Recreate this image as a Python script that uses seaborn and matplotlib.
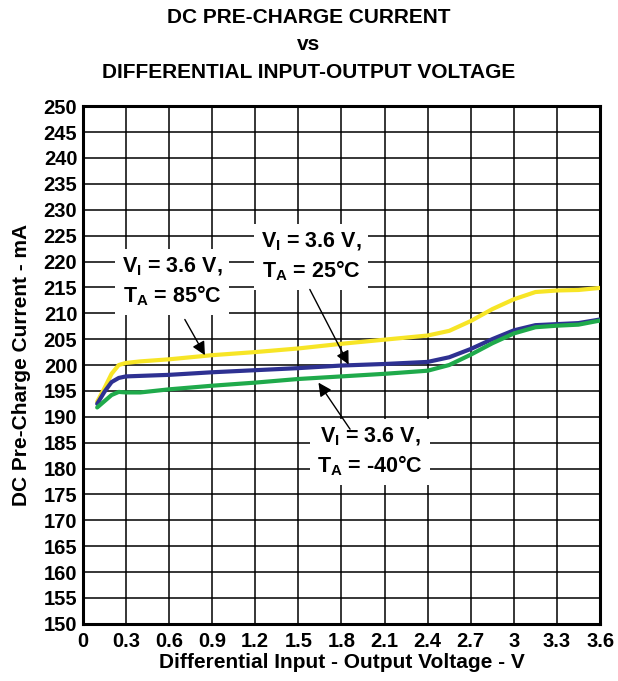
import numpy as np
import pandas as pd
import matplotlib
matplotlib.use("Agg")
import matplotlib.pyplot as plt
import seaborn as sns

# values
voltage = [0.1, 0.15, 0.2, 0.25, 0.3, 0.4, 0.6, 0.9, 1.2, 1.5, 1.8, 2.1,
           2.4, 2.55, 2.7, 2.85, 3.0, 3.15, 3.3, 3.45, 3.6]
current_85c = [192.9, 195.5, 198.3, 200.0, 200.4, 200.7, 201.1, 201.9, 202.5, 203.2, 204.1, 204.9,
               205.7, 206.6, 208.5, 210.8, 212.7, 214.1, 214.4, 214.5, 214.9]
current_25c = [192.5, 194.8, 196.7, 197.5, 197.8, 197.9, 198.1, 198.6, 199.0, 199.4, 199.9, 200.2,
               200.6, 201.5, 203.1, 205.0, 206.7, 207.7, 207.9, 208.1, 208.8]
current_m40c = [191.8, 193.0, 194.2, 194.8, 194.7, 194.7, 195.3, 196.0, 196.6, 197.3, 197.8, 198.3,
                198.9, 200.0, 202.0, 204.2, 206.1, 207.3, 207.6, 207.8, 208.6]

x_ticks = [0, 0.3, 0.6, 0.9, 1.2, 1.5, 1.8, 2.1, 2.4, 2.7, 3.0, 3.3, 3.6]
x_labels = ["0", "0.3", "0.6", "0.9", "1.2", "1.5", "1.8", "2.1", "2.4", "2.7", "3", "3.3", "3.6"]
y_ticks = list(range(150, 251, 5))

df = pd.concat([
    pd.DataFrame({"V": voltage, "I": current_85c, "T": "85C"}),
    pd.DataFrame({"V": voltage, "I": current_25c, "T": "25C"}),
    pd.DataFrame({"V": voltage, "I": current_m40c, "T": "-40C"}),
])
palette = {"85C": "#F7E526", "25C": "#2E3192", "-40C": "#1FAA4B"}

sns.set_style("white")
plt.rcParams["font.family"] = ["Liberation Sans", "DejaVu Sans"]
plt.rcParams["font.weight"] = "bold"
plt.rcParams["text.color"] = "black"
plt.rcParams["axes.labelcolor"] = "black"
plt.rcParams["xtick.color"] = "black"
plt.rcParams["ytick.color"] = "black"
plt.rcParams["mathtext.fontset"] = "custom"
plt.rcParams["mathtext.rm"] = "Liberation Sans:bold"
plt.rcParams["mathtext.it"] = "Liberation Sans:bold"
plt.rcParams["mathtext.bf"] = "Liberation Sans:bold"

fig = plt.figure(figsize=(6.18, 6.81), dpi=100)
ax = fig.add_axes([0.134, 0.084, 0.837, 0.760])

sns.lineplot(data=df, x="V", y="I", hue="T", palette=palette, ax=ax,
             linewidth=3, legend=False, sort=False, zorder=3)
for ln in ax.lines:
    ln.set_solid_joinstyle("round")
    ln.set_solid_capstyle("round")

ax.set_xlim(0, 3.6)
ax.set_ylim(150, 250)
ax.set_xticks(x_ticks)
ax.set_xticklabels(x_labels)
ax.set_yticks(y_ticks)
ax.tick_params(length=0, labelsize=14.5, labelcolor="black")
ax.tick_params(axis="x", pad=6)
ax.tick_params(axis="y", pad=4)
ax.grid(True, color="black", linewidth=1.1)
ax.set_axisbelow(True)
for s in ax.spines.values():
    s.set_linewidth(2.2)
    s.set_color("black")

ax.set_xlabel("Differential Input - Output Voltage - V", fontsize=15, fontweight="bold", labelpad=1)
ax.set_ylabel("DC Pre-Charge Current - mA", fontsize=15, fontweight="bold", labelpad=9)
fig.text(0.5, 0.988, "DC PRE-CHARGE CURRENT\nvs\nDIFFERENTIAL INPUT-OUTPUT VOLTAGE",
         ha="center", va="top", fontsize=15, fontweight="bold", linespacing=1.55)

box = dict(facecolor="white", edgecolor="none", pad=5)
arrow = dict(arrowstyle="-|>", color="black", lw=1, mutation_scale=20, shrinkA=0, shrinkB=0)
fs = 15.5

ax.text(0.62, 216.0, "V$_\\mathregular{I}$ = 3.6 V,\nT$_\\mathregular{A}$ = 85°C",
        ha="center", va="center", fontsize=fs, fontweight="bold", bbox=box, zorder=4, linespacing=1.3)
ax.annotate("", xy=(0.85, 201.9), xytext=(0.71, 208.8), arrowprops=arrow, zorder=5)

ax.text(1.59, 220.9, "V$_\\mathregular{I}$ = 3.6 V,\nT$_\\mathregular{A}$ = 25°C",
        ha="center", va="center", fontsize=fs, fontweight="bold", bbox=box, zorder=4, linespacing=1.3)
ax.annotate("", xy=(1.85, 200.1), xytext=(1.58, 214.6), arrowprops=arrow, zorder=5)

ax.text(2.0, 183.2, "V$_\\mathregular{I}$ = 3.6 V,\nT$_\\mathregular{A}$ = -40°C",
        ha="center", va="center", fontsize=fs, fontweight="bold", bbox=box, zorder=4, linespacing=1.3)
ax.annotate("", xy=(1.64, 196.6), xytext=(1.86, 187.6), arrowprops=arrow, zorder=5)

fig.savefig("out.png", dpi=100)
